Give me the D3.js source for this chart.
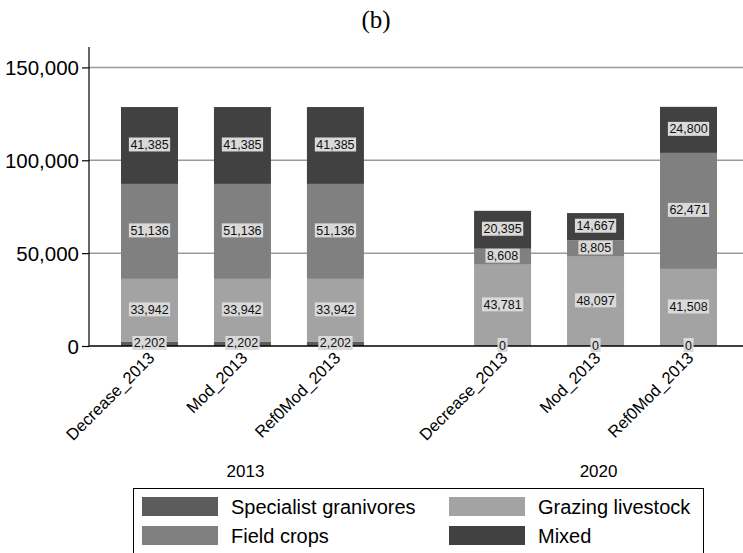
<!DOCTYPE html>
<html>
<head>
<meta charset="utf-8">
<script src="https://cdn.jsdelivr.net/npm/d3@7"></script>
<style>
  html, body { margin: 0; padding: 0; background: #fff; }
  svg { display: block; }
  text { font-family: "Liberation Sans", Arial, sans-serif; }
</style>
</head>
<body>
<svg id="chart" width="743" height="553"></svg>
<script>
// ---- data ----
const groups = ["2013", "2020"];
const scenarios = ["Decrease_2013", "Mod_2013", "Ref0Mod_2013"];
const seriesNames = ["Specialist granivores", "Grazing livestock", "Field crops", "Mixed"];
const specialist = [2202, 2202, 2202, 0, 0, 0];
const grazing = [33942, 33942, 33942, 43781, 48097, 41508];
const fieldCrops = [51136, 51136, 51136, 8608, 8805, 62471];
const mixed = [41385, 41385, 41385, 20395, 14667, 24800];
const yTicks = [0, 50000, 100000, 150000];
const colors = ["#5c5c5c", "#a3a3a3", "#808080", "#414141"];

const rows = [];
groups.forEach((g, gi) => scenarios.forEach((s, si) => {
  const i = gi * scenarios.length + si;
  rows.push({ group: g, scenario: s,
    "Specialist granivores": specialist[i], "Grazing livestock": grazing[i],
    "Field crops": fieldCrops[i], "Mixed": mixed[i] });
}));

const svg = d3.select("#chart");
const y = d3.scaleLinear().domain([0, 161000]).range([346, 47]);
const x0 = d3.scaleBand().domain(groups).range([121, 717]).paddingInner(0.312).paddingOuter(0);
const x1 = d3.scaleBand().domain(scenarios).range([0, x0.bandwidth()]).paddingInner(0.387).paddingOuter(0);
const color = d3.scaleOrdinal().domain(seriesNames).range(colors);
const stack = d3.stack().keys(seriesNames)(rows);

// title
svg.append("text").attr("x", 376).attr("y", 28).attr("text-anchor", "middle")
  .style("font-family", "'Liberation Serif', 'Times New Roman', serif")
  .style("font-size", "25px").text("(b)");

// gridlines
svg.append("g").selectAll("line").data(yTicks.filter(d => d > 0)).join("line")
  .attr("x1", 89).attr("x2", 743).attr("y1", d => y(d)).attr("y2", d => y(d))
  .attr("stroke", "#9a9a9a").attr("stroke-width", 1.5);

// bars
const layer = svg.append("g").selectAll("g").data(stack).join("g")
  .attr("fill", d => color(d.key));
layer.selectAll("rect").data(d => d).join("rect")
  .attr("x", d => x0(d.data.group) + x1(d.data.scenario))
  .attr("width", x1.bandwidth())
  .attr("y", d => y(d[1]))
  .attr("height", d => y(d[0]) - y(d[1]));

// y axis
const yAxis = d3.axisLeft(y).tickValues(yTicks).tickSize(7).tickPadding(3)
  .tickFormat(d3.format(","));
const ya = svg.append("g").attr("transform", "translate(89,0)").call(yAxis);
ya.select(".domain").remove();
ya.selectAll("text").style("font-size", "20.5px").attr("fill", "#000").attr("dy", "0.36em");
ya.selectAll("line").attr("stroke", "#000").attr("stroke-width", 1.2);
svg.append("line").attr("x1", 89).attr("x2", 89).attr("y1", 47).attr("y2", 346)
  .attr("stroke", "#000").attr("stroke-width", 1.2);

// zero line
svg.append("line").attr("x1", 89).attr("x2", 743).attr("y1", y(0)).attr("y2", y(0))
  .attr("stroke", "#000").attr("stroke-width", 1.5);

// x tick labels
const xl = svg.append("g");
rows.forEach(r => {
  const cx = x0(r.group) + x1(r.scenario) + x1.bandwidth() / 2;
  xl.append("text").attr("transform", `translate(${cx + 6},${359}) rotate(-45)`)
    .attr("text-anchor", "end").style("font-size", "16.5px")
    .attr("fill", "#000").text(r.scenario);
});

// value labels
const labels = svg.append("g");
stack.forEach(s => {
  s.forEach(d => {
    const cx = x0(d.data.group) + x1(d.data.scenario) + x1.bandwidth() / 2;
    const cy = (y(d[0]) + y(d[1])) / 2 - 1;
    const g = labels.append("g");
    const t = g.append("text").attr("x", cx).attr("y", cy).attr("dy", "0.36em")
      .attr("text-anchor", "middle").style("font-size", "12.5px").attr("fill", "#111")
      .text(d3.format(",")(d.data[s.key]));
    const bb = t.node().getBBox();
    g.insert("rect", "text").attr("x", bb.x - 1.5).attr("y", cy - 7)
      .attr("width", bb.width + 3).attr("height", 14).attr("fill", "#d9d9d9");
  });
});

// group labels
svg.append("g").selectAll("text").data(groups).join("text")
  .attr("x", d => x0(d) + x0.bandwidth() / 2 + 3).attr("y", 476.5)
  .attr("text-anchor", "middle").style("font-size", "17px").attr("fill", "#000").text(d => d);

// legend
const lg = svg.append("g");
lg.append("rect").attr("x", 133.5).attr("y", 488.5).attr("width", 570).attr("height", 80)
  .attr("fill", "none").attr("stroke", "#000").attr("stroke-width", 1);
const legPos = [[142, 497], [449, 497], [142, 526], [449, 526]];
seriesNames.forEach((n, i) => {
  const [lx, ly] = legPos[i];
  lg.append("rect").attr("x", lx).attr("y", ly).attr("width", 76).attr("height", 19)
    .attr("fill", color(n));
  lg.append("text").attr("x", lx + 89).attr("y", ly + 9.5).attr("dy", "0.36em")
    .style("font-size", "20px").attr("fill", "#000").text(n);
});
</script>
</body>
</html>
